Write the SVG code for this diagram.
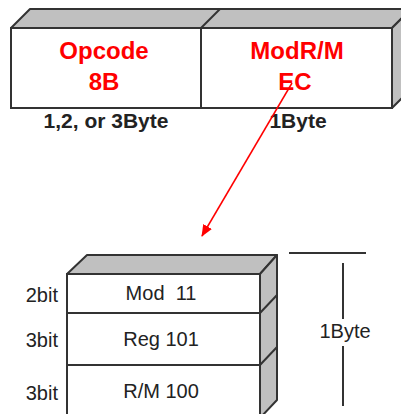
<svg xmlns="http://www.w3.org/2000/svg" width="401" height="414" viewBox="0 0 401 414">
  <defs>
    <marker id="arrowhead" viewBox="0 0 12 10" refX="11" refY="5" markerWidth="12" markerHeight="10" markerUnits="userSpaceOnUse" orient="auto">
      <path d="M0,0 L12,5 L0,10 Z" fill="#ff0000"/>
    </marker>
  </defs>
  <style>
    .face { fill: #ffffff; stroke: #333333; stroke-width: 2; }
    .shade { fill: #c0c0c0; stroke: #333333; stroke-width: 2; stroke-linejoin: round; }
    .edge { fill: none; stroke: #333333; stroke-width: 2; }
    .big { font-family: "Liberation Sans", Arial, sans-serif; font-weight: bold; font-size: 24px; fill: #ff0000; text-anchor: middle; }
    .size { font-family: "Liberation Sans", Arial, sans-serif; font-weight: bold; font-size: 21px; fill: #222222; text-anchor: middle; }
    .field { font-family: "Liberation Sans", Arial, sans-serif; font-size: 20px; fill: #222222; text-anchor: middle; white-space: pre; }
    .bits { font-family: "Liberation Sans", Arial, sans-serif; font-size: 20px; fill: #222222; text-anchor: end; }
    .dim { stroke: #333333; stroke-width: 2; fill: none; }
  </style>
  <rect width="401" height="414" fill="#ffffff"/>

  <!-- instruction bytes: opcode + ModR/M block -->
  <g id="instruction">
    <polygon class="shade" points="11,28 30,9 411,9 392,28"/>
    <polygon class="shade" points="392,28 411,9 411,89 392,108"/>
    <rect class="face" x="11" y="28" width="381" height="80"/>
    <line class="edge" x1="201" y1="28" x2="220" y2="9"/>
  </g>

  <g id="opcode">
    <line class="edge" x1="201" y1="28" x2="201" y2="108"/>
    <text class="big" x="104" y="59">Opcode</text>
    <text class="big" x="104" y="90">8B</text>
    <text class="size" x="106" y="128">1,2, or 3Byte</text>
  </g>

  <g id="modrm">
    <text class="big" x="297" y="59">ModR/M</text>
    <text class="big" x="295" y="90">EC</text>
    <text class="size" x="298" y="128">1Byte</text>
  </g>

  <!-- ModR/M bit fields -->
  <g id="modrm-fields">
    <polygon class="shade" points="67,274 87,255 277,255 260,274"/>
    <polygon class="shade" points="260,274 277,255 277,400 260,418"/>
    <rect class="face" x="67" y="274" width="193" height="150"/>
    <line class="edge" x1="67" y1="313" x2="260" y2="313"/>
    <line class="edge" x1="260" y1="313" x2="277" y2="295"/>
    <line class="edge" x1="67" y1="365" x2="260" y2="365"/>
    <line class="edge" x1="260" y1="365" x2="277" y2="347"/>
  </g>

  <g id="field-mod">
    <text class="bits" x="58" y="302">2bit</text>
    <text class="field" x="161" y="300" xml:space="preserve">Mod  11</text>
  </g>
  <g id="field-reg">
    <text class="bits" x="58" y="347">3bit</text>
    <text class="field" x="161" y="346">Reg 101</text>
  </g>
  <g id="field-rm">
    <text class="bits" x="58" y="400">3bit</text>
    <text class="field" x="161" y="398">R/M 100</text>
  </g>

  <!-- size bracket -->
  <g id="byte-span">
    <line class="dim" x1="289" y1="253" x2="366" y2="253"/>
    <line class="dim" x1="343" y1="263" x2="343" y2="319" stroke="#555555"/>
    <line class="dim" x1="343" y1="346" x2="343" y2="406" stroke="#555555"/>
    <text class="field" x="345" y="338">1Byte</text>
  </g>

  <g id="connectors">
    <line x1="292" y1="83" x2="202" y2="236" stroke="#ff0000" stroke-width="1.5" marker-end="url(#arrowhead)"/>
  </g>
</svg>
